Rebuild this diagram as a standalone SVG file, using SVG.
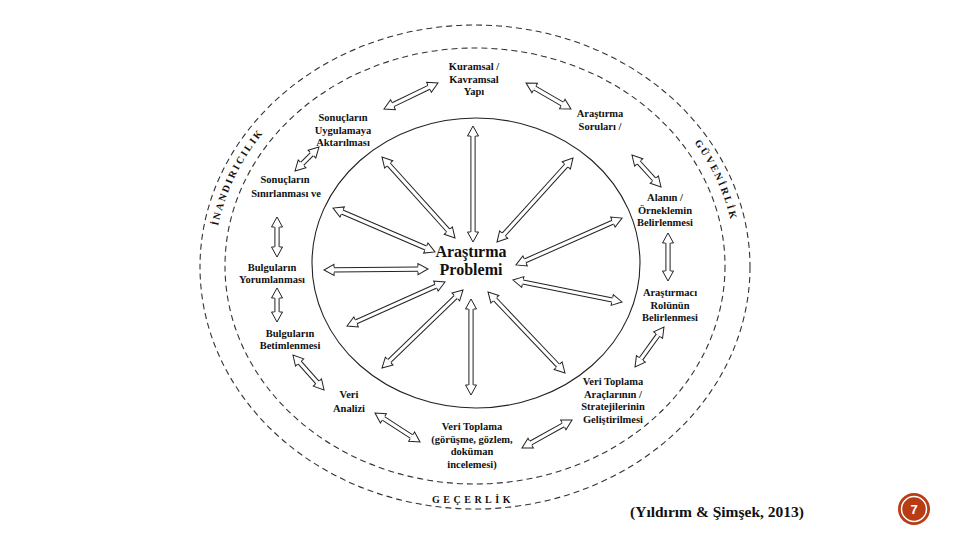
<svg xmlns="http://www.w3.org/2000/svg" xmlns:xlink="http://www.w3.org/1999/xlink" width="960" height="540" viewBox="0 0 960 540">
<style>
.lbl{font-family:"Liberation Serif","Times New Roman",serif;font-weight:bold;font-size:10.5px;fill:#111;text-anchor:middle}
.ctr{font-family:"Liberation Serif","Times New Roman",serif;font-weight:bold;font-size:16px;fill:#111;text-anchor:middle}
.ring{font-family:"Liberation Serif","Times New Roman",serif;font-weight:bold;font-size:10px;fill:#111;letter-spacing:2.2px}
.dash{fill:none;stroke:#333;stroke-width:1.1;stroke-dasharray:6 4}
.o{stroke:#222;stroke-width:5.2;stroke-linecap:butt}
.i{stroke:#fff;stroke-width:3.2;stroke-linecap:butt;marker-start:url(#head);marker-end:url(#head)}
</style>
<defs>
<marker id="head" markerUnits="userSpaceOnUse" orient="auto-start-reverse" refX="0" refY="0" markerWidth="20" markerHeight="20" overflow="visible">
<path d="M0,-2.6 L0,-5.5 L10,0 L0,5.5 L0,2.6" fill="#fff" stroke="#222" stroke-width="1" stroke-linejoin="miter"/>
</marker>
<path id="arcL" d="M229.7,344.6 A261,228.5 0 0 1 360.6,61.1"/>
<path id="arcR" d="M593.5,62.9 A261,228.5 0 0 1 718.7,348.4"/>
</defs>
<rect width="960" height="540" fill="#fff"/>

<g id="rings">
<ellipse class="dash" cx="475" cy="267" rx="275" ry="242"/>
<ellipse class="dash" cx="475" cy="266" rx="250" ry="218"/>
<ellipse cx="476" cy="263" rx="164" ry="145" fill="none" stroke="#222" stroke-width="1.1"/>
</g>

<g id="ring-labels">
<text class="ring" text-anchor="middle"><textPath xlink:href="#arcL" href="#arcL" startOffset="50%">İNANDIRICILIK</textPath></text>
<text class="ring" text-anchor="middle"><textPath xlink:href="#arcR" href="#arcR" startOffset="50%">GÜVENİRLİK</textPath></text>
<text class="ring" x="473" y="503" text-anchor="middle" style="letter-spacing:3.5px">GEÇERLİK</text>
</g>

<g id="connectors">
<g><line class="o" x1="393" y1="104.7" x2="429" y2="87.3"/><line class="i" x1="393" y1="104.7" x2="429" y2="87.3"/></g>
<g><line class="o" x1="534.7" y1="88" x2="562.3" y2="104"/><line class="i" x1="534.7" y1="88" x2="562.3" y2="104"/></g>
<g><line class="o" x1="638.7" y1="162.4" x2="654.3" y2="179.6"/><line class="i" x1="638.7" y1="162.4" x2="654.3" y2="179.6"/></g>
<g><line class="o" x1="668" y1="243" x2="668" y2="271"/><line class="i" x1="668" y1="243" x2="668" y2="271"/></g>
<g><line class="o" x1="658.1" y1="335.1" x2="640.9" y2="358.9"/><line class="i" x1="658.1" y1="335.1" x2="640.9" y2="358.9"/></g>
<g><line class="o" x1="563.3" y1="424.9" x2="530.7" y2="443.1"/><line class="i" x1="563.3" y1="424.9" x2="530.7" y2="443.1"/></g>
<g><line class="o" x1="383.4" y1="418.4" x2="411.6" y2="436.6"/><line class="i" x1="383.4" y1="418.4" x2="411.6" y2="436.6"/></g>
<g><line class="o" x1="299.6" y1="362.5" x2="317.4" y2="382.5"/><line class="i" x1="299.6" y1="362.5" x2="317.4" y2="382.5"/></g>
<g><line class="o" x1="277" y1="298" x2="277" y2="312"/><line class="i" x1="277" y1="298" x2="277" y2="312"/></g>
<g><line class="o" x1="277" y1="227" x2="277" y2="247"/><line class="i" x1="277" y1="227" x2="277" y2="247"/></g>
<g><line class="o" x1="302.1" y1="163.9" x2="311.9" y2="154.1"/><line class="i" x1="302.1" y1="163.9" x2="311.9" y2="154.1"/></g>

<g><line class="o" x1="473" y1="136" x2="473" y2="232"/><line class="i" x1="473" y1="136" x2="473" y2="232"/></g>
<g><line class="o" x1="388.7" y1="164.4" x2="448.3" y2="230.6"/><line class="i" x1="388.7" y1="164.4" x2="448.3" y2="230.6"/></g>
<g><line class="o" x1="342.2" y1="212" x2="425.8" y2="248"/><line class="i" x1="342.2" y1="212" x2="425.8" y2="248"/></g>
<g><line class="o" x1="334" y1="269.9" x2="418" y2="269.1"/><line class="i" x1="334" y1="269.9" x2="418" y2="269.1"/></g>
<g><line class="o" x1="356.1" y1="321.9" x2="435.9" y2="286.1"/><line class="i" x1="356.1" y1="321.9" x2="435.9" y2="286.1"/></g>
<g><line class="o" x1="389.2" y1="361.1" x2="455.8" y2="296.9"/><line class="i" x1="389.2" y1="361.1" x2="455.8" y2="296.9"/></g>
<g><line class="o" x1="471" y1="309" x2="471" y2="385"/><line class="i" x1="471" y1="309" x2="471" y2="385"/></g>
<g><line class="o" x1="494.9" y1="299.2" x2="558.1" y2="365.7"/><line class="i" x1="494.9" y1="299.2" x2="558.1" y2="365.7"/></g>
<g><line class="o" x1="522.8" y1="282" x2="612.2" y2="300"/><line class="i" x1="522.8" y1="282" x2="612.2" y2="300"/></g>
<g><line class="o" x1="525.1" y1="260.9" x2="612.9" y2="222.1"/><line class="i" x1="525.1" y1="260.9" x2="612.9" y2="222.1"/></g>
<g><line class="o" x1="566.3" y1="165.4" x2="503.7" y2="234.6"/><line class="i" x1="566.3" y1="165.4" x2="503.7" y2="234.6"/></g>
</g>

<g id="center">
<text class="ctr" x="471" y="257">Araştırma</text>
<text class="ctr" x="471" y="275">Problemi</text>
</g>

<g id="kuramsal"><text class="lbl" x="474" y="70">Kuramsal /<tspan x="474" dy="12.5">Kavramsal</tspan><tspan x="474" dy="12.5">Yapı</tspan></text></g>
<g id="sorular"><text class="lbl" x="600" y="117">Araştırma<tspan x="600" dy="13">Soruları /</tspan></text></g>
<g id="alan"><text class="lbl" x="665" y="201">Alanın /<tspan x="665" dy="12.5">Örneklemin</tspan><tspan x="665" dy="12.5">Belirlenmesi</tspan></text></g>
<g id="arastirmaci"><text class="lbl" x="670" y="296">Araştırmacı<tspan x="670" dy="12.5">Rolünün</tspan><tspan x="670" dy="12.5">Belirlenmesi</tspan></text></g>
<g id="araclar"><text class="lbl" x="613" y="385">Veri Toplama<tspan x="613" dy="12.5">Araçlarının /</tspan><tspan x="613" dy="12.5">Stratejilerinin</tspan><tspan x="613" dy="12.5">Geliştirilmesi</tspan></text></g>
<g id="veri-toplama"><text class="lbl" x="472" y="430">Veri Toplama<tspan x="472" dy="12.5">(görüşme, gözlem,</tspan><tspan x="472" dy="12.5">doküman</tspan><tspan x="472" dy="12.5">incelemesi)</tspan></text></g>
<g id="veri-analizi"><text class="lbl" x="349" y="398">Veri<tspan x="349" dy="14">Analizi</tspan></text></g>
<g id="betimleme"><text class="lbl" x="290" y="337">Bulguların<tspan x="290" dy="12">Betimlenmesi</tspan></text></g>
<g id="yorumlama"><text class="lbl" x="272" y="271">Bulguların<tspan x="272" dy="12">Yorumlanması</tspan></text></g>
<g id="sinirlama"><text class="lbl" x="285" y="183">Sonuçların<tspan x="286" dy="14">Sınırlanması ve</tspan></text></g>
<g id="uygulama"><text class="lbl" x="343" y="121">Sonuçların<tspan x="343" dy="12.5">Uygulamaya</tspan><tspan x="343" dy="12.5">Aktarılması</tspan></text></g>

<g id="citation">
<text x="717" y="517" text-anchor="middle" style="font-family:'Liberation Serif','Times New Roman',serif;font-weight:bold;font-size:15.5px;fill:#111">(Yıldırım &amp; Şimşek, 2013)</text>
</g>

<g id="page-number">
<circle cx="914" cy="509" r="16" fill="#b83c14"/>
<circle cx="914" cy="509" r="12.5" fill="none" stroke="#fff" stroke-width="1.5"/>
<text x="914" y="514" text-anchor="middle" style="font-family:'Liberation Sans',Arial,sans-serif;font-weight:bold;font-size:13px;fill:#fff">7</text>
</g>
</svg>
